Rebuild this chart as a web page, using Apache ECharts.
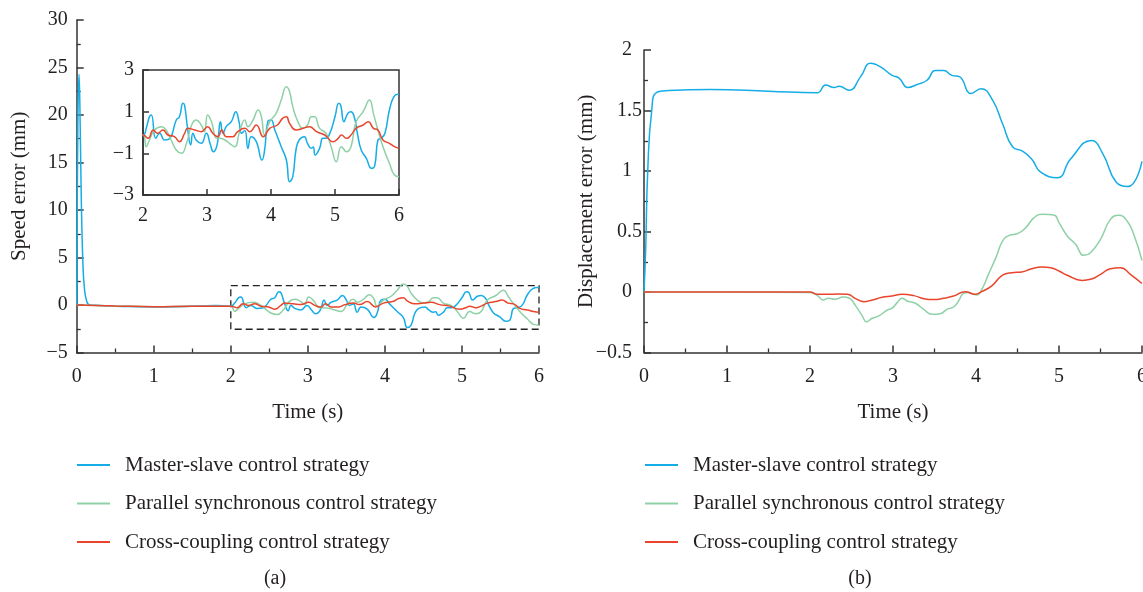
<!DOCTYPE html>
<html>
<head>
<meta charset="utf-8">
<script src="https://cdn.jsdelivr.net/npm/echarts@6/dist/echarts.min.js"></script>
<style>html,body{margin:0;padding:0;background:#fff;}#c{width:1143px;height:592px;}</style>
</head>
<body>
<div id="c"></div>
<script>
// ---------- DATA ----------
const seriesNames = ['Master-slave control strategy', 'Parallel synchronous control strategy', 'Cross-coupling control strategy'];
const colors = ['#15ade6', '#8fd1a6', '#e8452c'];

// (a) Speed error (mm) vs time (s)
const speedBlueT = [0,0.005,0.015,0.03,0.045,0.06,0.08,0.1,0.13,0.17,0.3,0.6,1.0,1.4,1.8,2.0,2.05,2.1,2.13,2.2,2.26,2.34,2.42,2.52,2.57,2.625,2.65,2.7,2.745,2.78,2.83,2.91,2.99,3.05,3.1,3.15,3.18,3.21,3.25,3.3,3.38,3.45,3.5,3.54,3.59,3.64,3.69,3.77,3.86,3.9,3.95,4.0,4.06,4.16,4.24,4.29,4.34,4.39,4.44,4.52,4.57,4.63,4.66,4.69,4.76,4.81,4.86,4.92,5.0,5.06,5.09,5.14,5.2,5.25,5.3,5.35,5.41,5.49,5.57,5.62,5.67,5.72,5.78,5.85,5.92,5.98,6.0];
const speedBlue  = [0,6,19,24.3,19,11,4.5,1.8,0.4,0,-0.05,-0.15,-0.2,-0.15,-0.06,-0.12,0.2,0.75,0.84,-0.28,-0.04,-0.36,-0.28,0.6,0.76,1.4,1.3,0.12,-0.6,-0.04,-0.36,-0.52,-0.04,-0.55,-0.92,-0.68,-0.1,0.52,-0.04,0.28,0.52,1.0,0.52,-0.04,0.1,-0.76,-0.2,-0.44,-1.32,-0.84,0.52,0.6,0.12,-0.68,-1.32,-2.36,-2.12,-0.84,-0.36,-0.2,-0.52,-0.76,-0.7,-1.08,-0.75,-0.28,-0.28,-0.04,0.76,1.4,1.3,0.52,0.92,1.0,0.76,-0.04,-0.84,-1.24,-1.72,-1.6,-0.36,-0.28,-0.04,1.08,1.72,1.84,1.84];

const speedGreenT = [0,0.5,1.0,1.5,2.0,2.05,2.1,2.18,2.29,2.36,2.44,2.52,2.6,2.68,2.76,2.83,2.91,2.96,3.01,3.07,3.15,3.2,3.28,3.35,3.43,3.51,3.59,3.64,3.72,3.8,3.85,3.9,3.98,4.08,4.16,4.24,4.29,4.34,4.42,4.5,4.57,4.63,4.68,4.76,4.86,4.94,5.02,5.1,5.18,5.25,5.33,5.44,5.54,5.6,5.67,5.75,5.85,5.93,6.0];
const speedGreen  = [0,-0.1,-0.18,-0.12,-0.12,-0.68,-0.36,0.12,0.28,0.12,-0.36,-0.84,-1.0,-0.52,0.36,0.6,0.36,0.04,0.84,0.52,-0.28,-0.28,-0.36,-0.52,-0.68,0.04,0.6,0.28,0.6,1.08,0.76,-0.12,0.52,0.92,1.56,2.2,1.96,1.24,0.52,0.2,0.36,0.76,0.76,0.2,-0.04,-0.68,-1.4,-0.68,-0.92,-0.68,0.52,1.0,1.56,0.92,0.12,-0.68,-1.48,-2.04,-2.12];

const speedRedT = [0,0.5,1.0,1.5,2.0,2.08,2.16,2.23,2.31,2.39,2.49,2.57,2.65,2.7,2.81,2.91,3.01,3.09,3.17,3.23,3.3,3.4,3.48,3.59,3.67,3.77,3.88,3.98,4.1,4.18,4.24,4.29,4.39,4.5,4.6,4.71,4.84,4.97,5.05,5.1,5.18,5.25,5.33,5.44,5.52,5.6,5.67,5.75,5.85,5.93,6.0];
const speedRed  = [0,-0.1,-0.18,-0.12,-0.12,-0.28,0.12,-0.04,0.12,-0.12,-0.2,-0.44,-0.04,0.2,0.12,0.04,0.28,-0.04,-0.2,0.12,-0.2,-0.2,0.04,0.2,0.04,0.36,-0.2,0.2,0.36,0.68,0.76,0.44,0.12,0.2,0.28,0.04,-0.12,-0.44,-0.28,-0.12,-0.28,-0.12,0.2,0.36,0.52,0.2,0.12,-0.36,-0.52,-0.68,-0.76];

// dashed zoom box (time range, speed range)
const zoomBoxT = [2, 6];
const zoomBoxV = [-2.55, 2.03];

// (b) Displacement error (mm) vs time (s)
const dispBlueT = [0,0.02,0.045,0.093,0.153,0.3,0.8,1.5,2.085,2.19,2.29,2.35,2.47,2.61,2.73,2.85,2.99,3.07,3.18,3.29,3.41,3.51,3.61,3.71,3.8,3.94,4.06,4.2,4.32,4.44,4.56,4.67,4.78,4.98,5.14,5.39,5.53,5.69,5.83,6.0];
const dispBlue  = [0,0.35,1.0,1.5,1.65,1.665,1.674,1.66,1.646,1.71,1.69,1.70,1.668,1.78,1.89,1.86,1.79,1.77,1.69,1.715,1.75,1.83,1.83,1.79,1.78,1.64,1.68,1.585,1.39,1.2,1.164,1.10,0.99,0.944,1.10,1.253,1.14,0.907,0.871,1.08];

const dispGreenT = [0,1.0,2.0,2.09,2.16,2.22,2.3,2.4,2.47,2.55,2.63,2.68,2.75,2.83,2.93,2.99,3.05,3.11,3.17,3.27,3.37,3.47,3.57,3.65,3.73,3.79,3.85,3.91,3.97,4.01,4.07,4.15,4.24,4.32,4.4,4.5,4.6,4.7,4.8,4.94,5.0,5.1,5.2,5.3,5.38,5.5,5.62,5.72,5.82,5.9,6.0];
const dispGreen  = [0,0,-0.005,-0.03,-0.066,-0.052,-0.06,-0.041,-0.05,-0.115,-0.197,-0.245,-0.217,-0.197,-0.15,-0.134,-0.088,-0.052,-0.074,-0.093,-0.143,-0.184,-0.179,-0.143,-0.124,-0.074,-0.011,-0.005,-0.019,-0.025,0.022,0.146,0.284,0.421,0.468,0.482,0.532,0.614,0.642,0.636,0.573,0.463,0.394,0.303,0.325,0.435,0.6,0.634,0.587,0.477,0.26];

const dispRedT = [0,1.0,2.0,2.09,2.21,2.33,2.45,2.55,2.65,2.75,2.87,2.99,3.11,3.25,3.37,3.49,3.61,3.73,3.87,3.99,4.07,4.19,4.32,4.43,4.55,4.67,4.8,4.9,5.0,5.1,5.28,5.38,5.5,5.62,5.74,5.86,6.0];
const dispRed  = [0,0,0,-0.019,-0.019,-0.017,-0.019,-0.055,-0.08,-0.066,-0.044,-0.033,-0.019,-0.03,-0.055,-0.063,-0.052,-0.033,0.003,-0.019,0.003,0.05,0.14,0.16,0.165,0.193,0.207,0.201,0.174,0.138,0.096,0.105,0.146,0.193,0.201,0.146,0.07];

// tick settings
const speedTicks = {min: -5, max: 30, interval: 5};
const insetTicks = {min: -3, max: 3, interval: 2};
const dispTicks  = {min: -0.5, max: 2, interval: 0.5};
const timeTicks  = {min: 0, max: 6, interval: 1};
const insetTimeTicks = {min: 2, max: 6, interval: 1};

// ---------- BUILD ----------
const pairs = (t, v) => t.map((x, i) => [x, v[i]]);
const FONT = 'Liberation Serif';
const AX = '#333';
const TXT = '#231f20';
const minus = v => String(v).replace('-', '\u2212');
const lbl = (m) => ({fontFamily: FONT, fontSize: 20, color: TXT, margin: m, formatter: minus});

function axis(opts, extra) {
  return Object.assign({
    type: 'value',
    min: opts.min, max: opts.max, interval: opts.interval,
    axisLine: {show: true, onZero: false, lineStyle: {color: AX, width: 1.5}},
    axisTick: {show: true, inside: true, length: 7, lineStyle: {color: AX, width: 1.5}},
    minorTick: {show: true, splitNumber: 2, length: 4, lineStyle: {color: AX, width: 1.3}},
    splitLine: {show: false},
    axisLabel: lbl(9),
    nameTextStyle: {fontFamily: FONT, fontSize: 21, color: TXT},
    nameLocation: 'middle',
    nameMoveOverlap: false
  }, extra || {});
}

const lineSeries = (name, idx, data, xi, yi, extra) => Object.assign({
  type: 'line', name, data, xAxisIndex: xi, yAxisIndex: yi,
  showSymbol: false, symbol: 'none', smooth: 0.5,
  color: colors[idx],
  lineStyle: {width: 1.5, color: colors[idx]},
  emphasis: {disabled: true}, animation: false
}, extra || {});

const sb = pairs(speedBlueT, speedBlue), sg = pairs(speedGreenT, speedGreen), sr = pairs(speedRedT, speedRed);
const db = pairs(dispBlueT, dispBlue), dg = pairs(dispGreenT, dispGreen), dr = pairs(dispRedT, dispRed);

const legendBase = {
  orient: 'vertical', icon: 'rect', itemWidth: 33, itemHeight: 2, itemGap: 16.5, padding: 0,
  textStyle: {fontFamily: FONT, fontSize: 21, color: TXT, lineHeight: 22, padding: [0, 0, 0, 10]},
  data: seriesNames, selectedMode: false
};
const innerTick = {show: true, inside: true, length: 6, lineStyle: {color: AX, width: 1.5}};

// right y labels: positive fractional labels sit closer to the axis than the others
const dispLabel = {
  fontFamily: FONT, fontSize: 20, color: TXT, margin: 2,
  formatter: v => (v > 0 && !Number.isInteger(v)) ? '{f|' + minus(v) + '}' : '{i|' + minus(v) + '}',
  rich: {
    f: {fontFamily: FONT, fontSize: 20, color: TXT},
    i: {fontFamily: FONT, fontSize: 20, color: TXT, padding: [0, 10, 0, 0]}
  }
};

const option = {
  animation: false,
  backgroundColor: '#fff',
  grid: [
    {left: 76.7, top: 20, width: 462.3, height: 332.5, outerBoundsMode: 'none', containLabel: false},
    {left: 143, top: 70, width: 256, height: 125, show: true, backgroundColor: '#fff', borderColor: AX, borderWidth: 1.5, outerBoundsMode: 'none', containLabel: false, z: 5},
    {left: 644, top: 50, width: 498, height: 302.5, outerBoundsMode: 'none', containLabel: false}
  ],
  xAxis: [
    axis(timeTicks, {gridIndex: 0, name: 'Time (s)', nameGap: 49, axisLabel: lbl(14)}),
    axis(insetTimeTicks, {gridIndex: 1, minorTick: {show: false}, axisTick: innerTick, axisLabel: lbl(11), z: 6}),
    axis(timeTicks, {gridIndex: 2, name: 'Time (s)', nameGap: 49, axisLabel: lbl(14)})
  ],
  yAxis: [
    axis(speedTicks, {gridIndex: 0, name: 'Speed error (mm)', nameGap: 47}),
    axis(insetTicks, {gridIndex: 1, minorTick: {show: false}, axisTick: innerTick, axisLabel: lbl(9), z: 6}),
    axis(dispTicks, {gridIndex: 2, name: 'Displacement error (mm)', nameGap: 47, axisLabel: dispLabel})
  ],
  legend: [
    Object.assign({left: 77, top: 454}, legendBase),
    Object.assign({left: 645, top: 454}, legendBase)
  ],
  series: [
    lineSeries(seriesNames[0], 0, sb, 0, 0, {
      markArea: {silent: true, itemStyle: {color: 'rgba(0,0,0,0)', borderColor: '#222', borderWidth: 1.3, borderType: [7, 4]},
        data: [[{coord: [zoomBoxT[0], zoomBoxV[1]]}, {coord: [zoomBoxT[1], zoomBoxV[0]]}]]}
    }),
    lineSeries(seriesNames[1], 1, sg, 0, 0),
    lineSeries(seriesNames[2], 2, sr, 0, 0),
    lineSeries(seriesNames[0], 0, sb, 1, 1, {z: 7, clip: true}),
    lineSeries(seriesNames[1], 1, sg, 1, 1, {z: 7, clip: true}),
    lineSeries(seriesNames[2], 2, sr, 1, 1, {z: 7, clip: true}),
    lineSeries(seriesNames[0], 0, db, 2, 2),
    lineSeries(seriesNames[1], 1, dg, 2, 2),
    lineSeries(seriesNames[2], 2, dr, 2, 2)
  ],
  graphic: [
    {type: 'text', x: 275, y: 579, style: {text: '(a)', font: '20px "Liberation Serif"', fill: TXT, textAlign: 'center', textVerticalAlign: 'middle'}},
    {type: 'text', x: 860, y: 579, style: {text: '(b)', font: '20px "Liberation Serif"', fill: TXT, textAlign: 'center', textVerticalAlign: 'middle'}}
  ]
};

const chart = echarts.init(document.getElementById('c'), null, {renderer: 'canvas'});
chart.setOption(option);
</script>
</body>
</html>
